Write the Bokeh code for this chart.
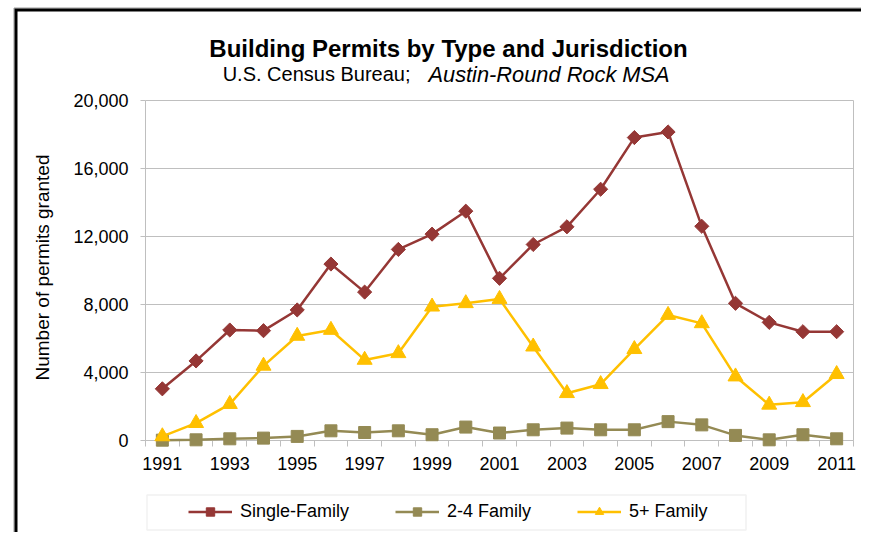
import math
from bokeh.plotting import figure
from bokeh.models import (Range1d, FixedTicker, NumeralTickFormatter, Legend,
                          LegendItem, Label, BoxAnnotation, LinearAxis)
from bokeh.embed import file_html
from bokeh.resources import INLINE

# ---------------- data ----------------
years = [1991, 1992, 1993, 1994, 1995, 1996, 1997, 1998, 1999, 2000, 2001,
         2002, 2003, 2004, 2005, 2006, 2007, 2008, 2009, 2010, 2011]
single_family = [3040, 4680, 6500, 6460, 7680, 10380, 8730, 11240, 12140, 13490, 9540,
                 11530, 12570, 14780, 17820, 18150, 12600, 8070, 6950, 6400, 6400]
two_four_family = [20, 40, 100, 140, 240, 570, 470, 570, 340, 790, 440,
                   630, 730, 630, 630, 1110, 920, 300, 40, 340, 100]
five_plus_family = [240, 1020, 2140, 4390, 6150, 6500, 4740, 5130, 7870, 8070, 8320,
                    5520, 2780, 3310, 5370, 7380, 6890, 3760, 2100, 2250, 3900]
series_names = ["Single-Family", "2-4 Family", "5+ Family"]
x_tick_years = [1991, 1993, 1995, 1997, 1999, 2001, 2003, 2005, 2007, 2009, 2011]
y_ticks = [0, 4000, 8000, 12000, 16000, 20000]
title_text = "Building Permits by Type and Jurisdiction"
subtitle_plain = "U.S. Census Bureau;"
subtitle_italic = "Austin-Round Rock MSA"
y_label = "Number of permits granted"

# ---------------- layout ----------------
FONT = "Liberation Sans"
W, H = 861, 532
FL, FR, FT, FB = 145, 853, 100, 440          # plot area edges (pixels)
X0, X1 = years[0] - 0.5, years[-1] + 0.5
Y0, Y1 = y_ticks[0], y_ticks[-1]
KX = (X1 - X0) / (FR - FL)
KY = (Y1 - Y0) / (FB - FT)


def px2x(px):
    return X0 + (px - FL) * KX


def py2y(py):
    return Y0 + (FB - py) * KY


GRID = "#BFBFBF"
COLORS = ["#953735", "#948A54", "#FFC000"]

p = figure(width=W, height=H, output_backend="svg", toolbar_location=None,
           x_range=Range1d(px2x(0), px2x(W)), y_range=Range1d(py2y(H), py2y(0)),
           x_axis_location=None, y_axis_location=None,
           min_border=0, min_border_left=0, min_border_right=0,
           min_border_top=0, min_border_bottom=0,
           background_fill_color="white", border_fill_color="white")
p.outline_line_color = None
p.xgrid.visible = False
p.ygrid.visible = False

# outer chart frame (only the top and left edges are in view) as single polylines
p.line(x=[px2x(13.5), px2x(13.5), px2x(W)], y=[py2y(H), py2y(7.5), py2y(7.5)],
       line_color="#9A9A9A", line_width=1, line_join="miter")
p.line(x=[px2x(15.5), px2x(15.5), px2x(W)], y=[py2y(H), py2y(9.5), py2y(9.5)],
       line_color="black", line_width=3, line_join="miter")

# gridlines and right edge of plot area
for yt in y_ticks:
    p.line(x=[X0, X1], y=[yt, yt], line_color=GRID, line_width=1)
p.line(x=[X1, X1], y=[Y0, Y1], line_color=GRID, line_width=1)

# axes
xa = LinearAxis(fixed_location=Y0, bounds=(X0, X1),
                ticker=FixedTicker(ticks=x_tick_years,
                                   minor_ticks=[y - 0.5 for y in years] + [years[-1] + 0.5]))
xa.major_tick_out = 0
xa.major_tick_in = 0
xa.minor_tick_out = 6
xa.minor_tick_in = 0
xa.minor_tick_line_color = GRID
xa.axis_line_color = GRID
xa.major_label_standoff = 10
xa.major_label_text_font = FONT
xa.major_label_text_font_size = "18px"
xa.major_label_text_color = "black"
xa.level = "underlay"
p.add_layout(xa, "below")

ya = LinearAxis(fixed_location=X0, bounds=(Y0, Y1), ticker=FixedTicker(ticks=y_ticks),
                formatter=NumeralTickFormatter(format="0,0"))
ya.major_tick_out = 5
ya.major_tick_in = 0
ya.minor_tick_out = 0
ya.minor_tick_in = 0
ya.major_tick_line_color = GRID
ya.axis_line_color = GRID
ya.major_label_standoff = 12
ya.major_label_text_font = FONT
ya.major_label_text_font_size = "18px"
ya.major_label_text_color = "black"
ya.level = "underlay"
p.add_layout(ya, "left")

# series
items = []
marker_specs = [dict(marker="square", size=10, angle=math.pi / 4),
                dict(marker="square", size=12, angle=0),
                dict(marker="triangle", size=15, angle=0)]
for name, vals, color, spec in zip(series_names,
                                   [single_family, two_four_family, five_plus_family],
                                   COLORS, marker_specs):
    lr = p.line(years, vals, line_color=color, line_width=2.5)
    sr = p.scatter(years, vals, fill_color=color, line_color=color, line_width=1, **spec)
    items.append(LegendItem(label=name, renderers=[lr, sr]))

legend = Legend(items=items, orientation="horizontal",
                location=(188, H - 522), padding=0, spacing=46, margin=0,
                glyph_width=44, glyph_height=21, label_height=21, label_standoff=8,
                border_line_color=None, background_fill_alpha=0,
                label_text_font=FONT, label_text_font_size="18px",
                label_text_color="black")
p.add_layout(legend, "center")

# legend frame
p.add_layout(BoxAnnotation(left=px2x(146.5), right=px2x(745.5),
                           top=py2y(494.5), bottom=py2y(529.5),
                           fill_alpha=0, fill_color=None,
                           line_color="#D0D0D0", line_width=1.5))

# titles
p.add_layout(Label(x=px2x(448), y=py2y(47.5), text=title_text,
                   text_align="center", text_baseline="alphabetic",
                   text_font=FONT, text_font_size="24px", text_font_style="bold",
                   text_color="black"))
p.add_layout(Label(x=px2x(410), y=py2y(73.5), text=subtitle_plain,
                   text_align="right", text_baseline="alphabetic",
                   text_font=FONT, text_font_size="20px", text_color="black"))
p.add_layout(Label(x=px2x(428), y=py2y(73.5), text=subtitle_italic,
                   text_align="left", text_baseline="alphabetic",
                   text_font=FONT, text_font_size="21.8px", text_font_style="italic",
                   text_color="black"))

# y axis title
p.add_layout(Label(x=px2x(42), y=py2y(267), text=y_label, angle=math.pi / 2,
                   text_align="center", text_baseline="middle",
                   text_font=FONT, text_font_size="19px", text_color="black"))

open("out.html", "w").write(file_html(p, INLINE))
